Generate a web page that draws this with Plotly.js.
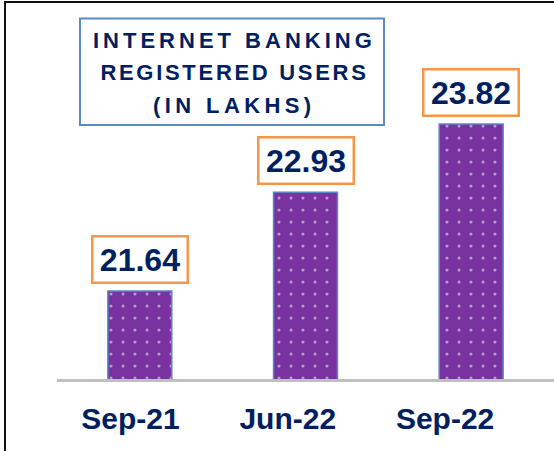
<!DOCTYPE html>
<html>
<head>
<meta charset="utf-8">
<script src="https://cdn.plot.ly/plotly-3.0.1.min.js"></script>
<style>
  html, body { margin: 0; padding: 0; background: #ffffff; }
  #chart { width: 554px; height: 451px; }
  g.annotation[data-index="3"] text.annotation-text { letter-spacing: 4px; }
  g.annotation[data-index="4"] text.annotation-text { letter-spacing: 2.7px; }
  g.annotation[data-index="5"] text.annotation-text { letter-spacing: 4.4px; }
</style>
</head>
<body>
<div id="chart"></div>
<script>
// ---- data ----
var categories = ['Sep-21', 'Jun-22', 'Sep-22'];
var users = [21.64, 22.93, 23.82];
var valueLabels = ['21.64', '22.93', '23.82'];
var titleLines = ['INTERNET BANKING', 'REGISTERED USERS', '(IN LAKHS)'];
var labelPositions = [0, 1, 2];

var NAVY = '#002060';
var W = 554, H = 451, PLOT_H = 379;

var bars = {
  type: 'bar',
  x: categories,
  y: users,
  xaxis: 'x',
  yaxis: 'y',
  marker: {
    color: '#7833a0',
    line: { color: '#5b86c5', width: 1.5 },
    pattern: { shape: '.', fillmode: 'overlay', fgcolor: '#ffffff', size: 12, solidity: 0.05 }
  },
  hoverinfo: 'skip'
};

// carrier for the category label axis (draws nothing itself)
var labelAxisTrace = {
  type: 'scatter', mode: 'none',
  x: labelPositions, y: users,
  xaxis: 'x2', yaxis: 'y',
  hoverinfo: 'skip', showlegend: false
};

var annotations = [];
for (var i = 0; i < categories.length; i++) {
  annotations.push({
    x: categories[i], y: users[i], xref: 'x', yref: 'y',
    text: valueLabels[i], showarrow: false,
    xanchor: 'center', yanchor: 'bottom', yshift: 7,
    width: 93, height: 44,
    font: { family: 'Liberation Sans, Arial, sans-serif', size: 32, color: NAVY, weight: 'bold' },
    bgcolor: '#ffffff', bordercolor: '#f79646', borderwidth: 2.5, borderpad: 0
  });
}
var titleY = [40, 73, 106];
for (var j = 0; j < titleLines.length; j++) {
  annotations.push({
    x: 232 / W, y: 1 - titleY[j] / PLOT_H, xref: 'paper', yref: 'paper',
    text: titleLines[j], showarrow: false,
    xanchor: 'center', yanchor: 'middle', xshift: 2,
    font: { family: 'Liberation Sans, Arial, sans-serif', size: 22, color: NAVY, weight: 'bold' }
  });
}

var layout = {
  width: W, height: H,
  margin: { l: 0, r: 0, t: 0, b: H - PLOT_H },
  paper_bgcolor: '#ffffff', plot_bgcolor: 'rgba(0,0,0,0)',
  showlegend: false,
  hovermode: false,
  bargap: 0.614,
  xaxis: {
    domain: [57 / W, 1],
    type: 'category',
    range: [-0.5, 2.5],
    showticklabels: false, ticks: '',
    showgrid: false, zeroline: false,
    showline: true, linecolor: '#bfbfbf', linewidth: 3,
    fixedrange: true
  },
  xaxis2: {
    domain: [51.75 / W, 523.75 / W],
    anchor: 'y',
    type: 'linear',
    range: [-0.5, 2.5],
    tickmode: 'array', tickvals: labelPositions, ticktext: categories,
    ticks: '', showgrid: false, zeroline: false, showline: false,
    ticklabelstandoff: 19,
    tickfont: { family: 'Liberation Sans, Arial, sans-serif', size: 30, color: NAVY, weight: 'bold' },
    fixedrange: true
  },
  yaxis: {
    range: [20.49, 25.44],
    visible: false, showgrid: false, zeroline: false,
    fixedrange: true
  },
  annotations: annotations,
  shapes: [
    { type: 'rect', xref: 'paper', yref: 'paper',
      x0: 80 / W, x1: 384 / W, y0: 1 - 125 / PLOT_H, y1: 1 - 18.5 / PLOT_H,
      line: { color: '#5a8ac6', width: 2 }, fillcolor: 'rgba(0,0,0,0)' },
    { type: 'line', xref: 'paper', yref: 'paper',
      x0: 4 / W, x1: 1, y0: 1 - 2 / PLOT_H, y1: 1 - 2 / PLOT_H,
      line: { color: '#111111', width: 2 } },
    { type: 'line', xref: 'paper', yref: 'paper',
      x0: 5 / W, x1: 5 / W, y0: 1 - 1 / PLOT_H, y1: 1 - H / PLOT_H,
      line: { color: '#111111', width: 2 } }
  ]
};

Plotly.newPlot('chart', [bars, labelAxisTrace], layout, { displayModeBar: false, staticPlot: true });
</script>
</body>
</html>
